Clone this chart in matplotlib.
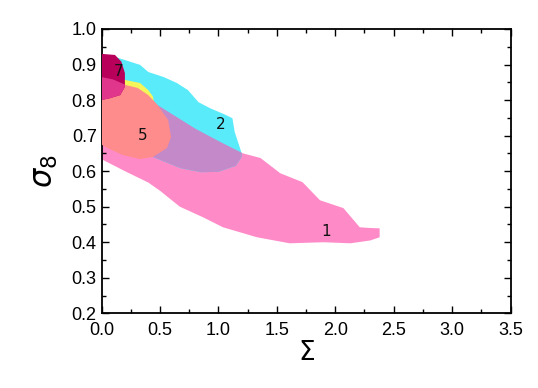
import matplotlib
matplotlib.use("Agg")
import matplotlib.pyplot as plt
from matplotlib.patches import Polygon
from matplotlib.ticker import MultipleLocator, FormatStrFormatter

plt.rcParams['font.family'] = ['Liberation Sans', 'DejaVu Sans']

# Region outlines (Sigma, sigma_8)
region1_x = [-0.05, 0.25, 0.46, 0.80, 1.00, 1.21, 1.36, 1.53, 1.72, 1.87, 2.07, 2.21, 2.30, 2.38, 2.38,
             2.30, 2.13, 1.90, 1.61, 1.33, 1.04, 0.87, 0.67, 0.50, 0.40, 0.20, -0.05]
region1_y = [0.86, 0.83, 0.79, 0.72, 0.685, 0.65, 0.637, 0.594, 0.569, 0.518, 0.496, 0.442, 0.440, 0.439, 0.414,
             0.405, 0.397, 0.400, 0.397, 0.414, 0.442, 0.470, 0.500, 0.545, 0.568, 0.600, 0.642]

region2_x = [-0.05, 0.13, 0.33, 0.40, 0.53, 0.645, 0.74, 0.83, 0.93, 1.05, 1.12, 1.14, 1.17, 1.20,
             1.20, 1.15, 1.00, 0.85, 0.68, 0.55, 0.44, 0.20, -0.05]
region2_y = [0.93, 0.92, 0.899, 0.879, 0.865, 0.848, 0.828, 0.794, 0.777, 0.760, 0.749, 0.710, 0.680, 0.650,
             0.640, 0.615, 0.598, 0.597, 0.608, 0.625, 0.640, 0.680, 0.720]

region3_x = [-0.05, 0.21, 0.33, 0.40, 0.44, 0.45, 0.40, 0.20, -0.05]
region3_y = [0.87, 0.856, 0.848, 0.828, 0.810, 0.790, 0.750, 0.720, 0.740]

region5_x = [-0.05, 0.10, 0.21, 0.31, 0.40, 0.47, 0.57, 0.595, 0.56, 0.44, 0.33, 0.185, 0.05, -0.05]
region5_y = [0.868, 0.858, 0.842, 0.834, 0.814, 0.790, 0.744, 0.696, 0.665, 0.640, 0.634, 0.645, 0.665, 0.685]

region7_x = [-0.05, 0.00, 0.115, 0.17, 0.20, 0.20, 0.16, 0.07, 0.00, -0.05]
region7_y = [0.93, 0.93, 0.927, 0.908, 0.876, 0.837, 0.814, 0.805, 0.800, 0.80]

labels = ['1', '2', '5', '7']
label_x = [1.92, 1.02, 0.35, 0.15]
label_y = [0.430, 0.732, 0.700, 0.879]

c1 = '#FF8AC8'
c2 = '#5AEBFA'
c12 = '#C489C9'
c3 = '#F5F55A'
c5 = '#FF8C8C'
c7 = '#B8005A'
c75 = '#E0378C'

fig = plt.figure(figsize=(5.38, 3.88), dpi=100)
ax = fig.add_axes([0.1887, 0.1925, 0.7602, 0.7328])


def poly(xs, ys, color, z):
    p = Polygon(list(zip(xs, ys)), closed=True, facecolor=color, edgecolor='none', zorder=z)
    ax.add_patch(p)
    return p

p1 = poly(region1_x, region1_y, c1, 1)
p2 = poly(region2_x, region2_y, c2, 2)
p12 = poly(region2_x, region2_y, c12, 3)
p12.set_clip_path(p1)
p3 = poly(region3_x, region3_y, c3, 4)
p5 = poly(region5_x, region5_y, c5, 5)
p7 = poly(region7_x, region7_y, c7, 6)
p75 = poly(region7_x, region7_y, c75, 7)
p75.set_clip_path(p5)

for t, x, y in zip(labels, label_x, label_y):
    ax.text(x, y, t, fontsize=11, ha='center', va='center', color='#111111',
            family=['DejaVu Sans'], zorder=10)

ax.set_xlim(0, 3.5)
ax.set_ylim(0.2, 1.0)
ax.xaxis.set_major_locator(MultipleLocator(0.5))
ax.xaxis.set_minor_locator(MultipleLocator(0.25))
ax.yaxis.set_major_locator(MultipleLocator(0.1))
ax.yaxis.set_minor_locator(MultipleLocator(0.05))
ax.xaxis.set_major_formatter(FormatStrFormatter('%.1f'))
ax.yaxis.set_major_formatter(FormatStrFormatter('%.1f'))
ax.tick_params(which='both', direction='in', top=True, right=True, labelsize=13, width=1.0)
ax.tick_params(which='major', length=5)
ax.tick_params(which='minor', length=3)
ax.tick_params(axis='x', which='major', pad=6)
for s in ax.spines.values():
    s.set_linewidth(1.3)

ax.set_xlabel(r'$\Sigma$', fontsize=19, labelpad=2)
ax.set_ylabel(r'$\sigma_8$', fontsize=22, labelpad=8)

fig.savefig('out.png', dpi=100)
